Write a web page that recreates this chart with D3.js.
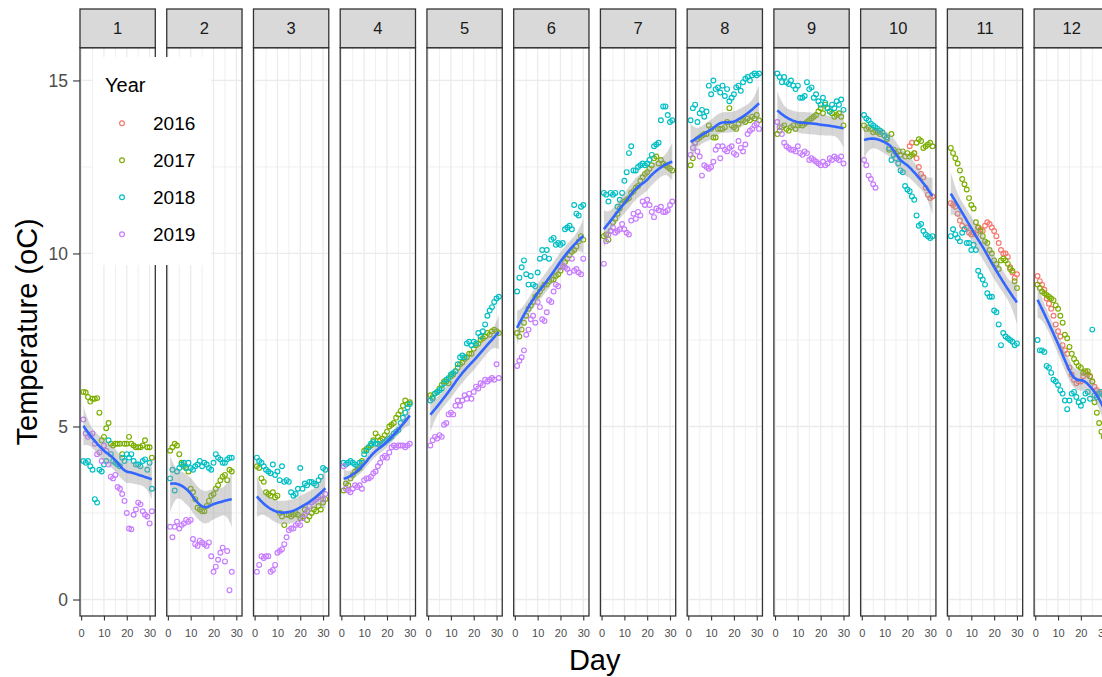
<!DOCTYPE html>
<html>
<head>
<meta charset="utf-8">
<script src="https://cdn.jsdelivr.net/npm/d3@7"></script>
<style>
  body { margin: 0; background: #fff; }
  svg { display: block; }
  text { font-family: "Liberation Sans", Arial, sans-serif; }
</style>
</head>
<body>
<svg id="chart" width="1102" height="677"></svg>
<script>
// ---- data: daily mean water temperature, one row per [month, first day, values] ----
const months = [1, 2, 3, 4, 5, 6, 7, 8, 9, 10, 11, 12];
const years = ["2016", "2017", "2018", "2019"];
const yearColors = ["#F8766D", "#7CAE00", "#00BFC4", "#C77CFF"];
const xTicks = [0, 10, 20, 30];
const yTicks = [0, 5, 10, 15];

const temps2016 = [
  [10, 21, [13.1, 13.2, 12.9, 12.75, 12.5, 12.3, 12.2, 11.9, 11.7, 11.6, 11.65]],
  [11, 1, [11.45, 11.4, 11.35, 11.15, 10.95, 10.8, 10.7, 10.75, 10.6, 10.55, 10.6, 10.55, 10.75, 10.7, 10.65, 10.8, 10.9, 10.85, 10.75, 10.65, 10.5, 10.3, 10.1, 10.0, 10.0, 9.9, 9.6, 9.45, 9.3, 9.4]],
  [12, 1, [9.35, 9.2, 9.1, 8.95, 8.7, 8.55, 8.4, 8.2, 7.95, 7.75, 7.6, 7.35, 7.2, 7.1, 6.7, 6.5, 6.35, 6.25, 6.3, 6.3, 6.45, 6.55, 6.5, 6.45, 6.3, 6.15, 6.05, 6.0, 5.95, 5.9, 5.85]]
];

const temps2017 = [
  [1, 1, [6.0, 5.98, 5.85, 5.72, 5.8, 5.8, 5.82, 5.4, 4.6, 4.7, 4.95, 5.1, 4.5, 4.45, 4.5, 4.5, 4.5, 4.2, 4.5, 4.5, 4.7, 4.5, 4.45, 4.4, 4.4, 4.4, 4.45, 4.6, 4.4, 4.4, 4.1]],
  [2, 1, [4.3, 4.4, 4.5, 4.45, 4.2, 3.95, 3.85, 3.8, 3.7, 3.2, 3.1, 2.9, 2.65, 2.6, 2.55, 2.55, 2.7, 2.85, 3.0, 3.05, 3.2, 3.3, 3.45, 3.55, 3.6, 3.45, 3.75, 3.7]],
  [3, 1, [3.85, 3.8, 3.5, 3.4, 3.1, 3.05, 3.0, 3.1, 2.95, 3.0, 2.5, 2.4, 2.15, 2.45, 2.45, 2.4, 2.45, 2.5, 2.45, 2.35, 2.4, 2.6, 2.3, 2.4, 2.5, 2.6, 2.55, 2.7, 2.6, 2.8, 2.9]],
  [4, 1, [3.15, 3.35, 3.3, 3.5, 3.6, 3.7, 3.75, 3.8, 4.0, 4.3, 4.35, 4.4, 4.45, 4.6, 4.8, 4.7, 4.6, 4.65, 4.75, 4.85, 5.0, 5.05, 5.1, 5.25, 5.35, 5.45, 5.6, 5.75, 5.65, 5.7]],
  [5, 1, [5.9, 5.85, 5.95, 6.0, 6.1, 6.2, 6.3, 6.3, 6.25, 6.45, 6.5, 6.6, 6.7, 6.8, 6.85, 6.95, 7.0, 7.1, 7.1, 7.25, 7.35, 7.4, 7.5, 7.55, 7.6, 7.7, 7.65, 7.75, 7.8, 7.75, 7.7]],
  [6, 1, [7.7, 7.6, 7.8, 8.0, 8.2, 8.4, 8.5, 8.6, 8.75, 8.8, 8.9, 9.0, 9.1, 9.1, 9.2, 9.25, 9.25, 9.35, 9.4, 9.5, 9.6, 9.75, 9.85, 9.95, 10.05, 10.1, 10.2, 10.35, 10.5, 10.4]],
  [7, 1, [10.5, 10.55, 10.4, 10.65, 10.9, 11.0, 11.15, 11.3, 11.45, 11.5, 11.55, 11.6, 11.75, 11.8, 11.9, 11.95, 12.1, 12.2, 12.3, 12.35, 12.45, 12.55, 12.75, 12.8, 12.6, 12.7, 12.6, 12.55, 12.5, 12.45, 12.4]],
  [8, 1, [12.55, 12.75, 13.2, 13.3, 13.35, 13.4, 13.45, 13.45, 13.7, 13.6, 13.35, 13.35, 13.6, 13.6, 13.6, 13.65, 13.8, 14.2, 13.7, 13.65, 13.6, 13.75, 13.85, 13.85, 13.8, 13.9, 13.85, 13.95, 13.9, 14.0, 13.85]],
  [9, 1, [13.45, 13.55, 13.65, 13.7, 13.6, 13.55, 13.65, 13.7, 13.6, 13.7, 13.75, 13.7, 13.75, 13.8, 13.85, 13.9, 13.95, 14.0, 14.1, 14.2, 14.05, 14.3, 14.2, 14.1, 14.05, 13.95, 14.0, 14.05, 13.95, 13.7]],
  [10, 1, [13.7, 13.6, 13.65, 13.6, 13.5, 13.55, 13.5, 13.45, 13.5, 13.4, 13.3, 13.0, 13.45, 13.0, 12.9, 12.95, 12.85, 12.95, 12.8, 12.9, 12.8, 12.85, 12.9, 13.2, 13.3, 13.25, 13.05, 13.1, 13.15, 13.2, 13.1]],
  [11, 1, [13.05, 12.9, 12.75, 12.6, 12.4, 12.15, 12.0, 11.85, 11.6, 11.4, 11.3, 10.9, 10.75, 10.65, 10.5, 10.35, 10.3, 10.1, 10.0, 9.8, 9.7, 9.55, 9.8, 9.85, 9.8, 9.7, 9.55, 9.5, 9.2, 9.0]],
  [12, 1, [9.1, 9.0, 8.9, 8.85, 8.8, 8.75, 8.7, 8.65, 8.5, 8.4, 8.2, 8.0, 7.65, 7.55, 7.3, 7.1, 6.95, 6.85, 6.75, 6.7, 6.55, 6.6, 6.6, 6.45, 6.3, 5.7, 5.4, 5.1, 4.85, 4.7, 4.5]]
];

const temps2018 = [
  [1, 1, [4.0, 3.95, 4.0, 3.85, 3.75, 2.9, 2.8, 3.75, 3.7, 3.9, 4.0, 4.6, 4.2, 4.0, 3.95, 3.9, 3.85, 4.1, 4.0, 4.2, 4.1, 4.2, 4.0, 3.9, 3.9, 3.85, 4.0, 4.05, 3.75, 3.95, 3.2]],
  [2, 1, [3.5, 3.75, 3.15, 3.7, 3.8, 3.9, 3.95, 3.8, 3.95, 3.8, 3.75, 3.85, 3.9, 4.0, 3.85, 3.95, 3.9, 3.8, 3.75, 3.95, 4.2, 4.1, 4.05, 3.95, 3.95, 4.05, 4.1, 4.1]],
  [3, 1, [4.1, 4.0, 3.95, 3.85, 3.75, 3.7, 3.65, 3.9, 3.6, 3.7, 3.45, 3.85, 3.4, 3.45, 3.4, 3.1, 3.0, 3.05, 3.2, 3.8, 3.2, 3.35, 3.3, 3.4, 3.4, 3.35, 3.3, 3.45, 3.55, 3.8, 3.75]],
  [4, 1, [3.95, 3.9, 3.95, 4.0, 3.95, 3.9, 3.85, 3.95, 3.95, 4.2, 4.3, 4.4, 4.5, 4.55, 4.5, 4.5, 4.45, 4.5, 4.55, 4.6, 4.65, 4.7, 4.8, 4.85, 4.9, 5.1, 5.25, 5.4, 5.55, 5.65]],
  [5, 1, [5.75, 5.8, 5.95, 6.0, 6.05, 6.1, 6.25, 6.35, 6.4, 6.5, 6.55, 6.6, 6.8, 7.0, 7.05, 7.0, 7.4, 7.45, 7.35, 7.45, 7.4, 7.7, 7.6, 7.75, 7.95, 8.2, 8.35, 8.45, 8.6, 8.7, 8.75]],
  [6, 1, [8.9, 9.3, 9.6, 9.8, 9.4, 9.1, 9.35, 9.1, 9.05, 9.45, 9.85, 10.1, 9.9, 10.1, 9.85, 10.4, 10.45, 10.25, 10.3, 10.25, 10.3, 10.7, 10.75, 10.8, 10.7, 11.4, 11.15, 11.1, 11.35, 11.4]],
  [7, 1, [11.75, 11.7, 11.5, 11.75, 11.7, 11.75, 11.35, 11.55, 11.75, 12.1, 12.35, 12.9, 13.1, 12.4, 12.4, 12.5, 12.55, 12.6, 12.55, 12.6, 12.7, 12.85, 13.1, 13.15, 13.2, 13.85, 14.25, 14.25, 14.0, 13.8, 13.85]],
  [8, 1, [13.85, 14.2, 14.3, 13.8, 14.05, 14.15, 13.95, 14.1, 14.85, 14.6, 15.0, 14.75, 14.8, 14.65, 14.85, 14.55, 14.75, 14.4, 14.5, 14.6, 14.8, 14.85, 14.7, 14.95, 15.05, 15.1, 15.0, 15.15, 15.2, 15.15, 15.2]],
  [9, 1, [15.2, 15.1, 14.95, 15.1, 14.95, 14.9, 15.0, 14.85, 14.75, 14.85, 14.5, 14.5, 14.55, 14.95, 14.75, 14.8, 14.5, 14.6, 14.4, 14.3, 14.5, 14.35, 14.2, 14.1, 14.3, 14.2, 14.4, 14.3, 14.45, 14.15]],
  [10, 1, [14.0, 13.9, 13.85, 13.75, 13.7, 13.65, 13.6, 13.55, 13.5, 13.4, 13.35, 13.05, 12.7, 12.85, 12.75, 12.6, 12.4, 12.35, 11.95, 11.85, 11.8, 11.65, 11.55, 11.1, 10.8, 10.85, 10.65, 10.55, 10.5, 10.45, 10.5]],
  [11, 1, [10.5, 10.7, 10.55, 10.45, 10.35, 10.6, 10.7, 10.3, 10.3, 10.1, 10.25, 10.1, 9.5, 9.35, 9.25, 9.1, 8.85, 8.75, 8.75, 8.35, 8.3, 7.95, 7.35, 7.7, 7.6, 7.55, 7.5, 7.45, 7.35, 7.4]],
  [12, 1, [7.5, 7.2, 7.2, 7.15, 6.75, 6.7, 6.55, 6.35, 6.3, 6.2, 6.05, 5.95, 5.75, 5.5, 5.75, 5.95, 6.0, 5.85, 5.7, 5.6, 5.75, 5.95, 6.0, 5.8, 7.8, 5.9, 5.85, 5.95, 6.0, 5.9, 5.8]]
];

const temps2019 = [
  [1, 1, [5.2, 4.8, 4.7, 4.75, 4.8, 4.5, 4.2, 4.25, 4.0, 4.45, 4.3, 3.9, 3.55, 3.5, 3.6, 3.25, 3.2, 3.05, 2.85, 2.5, 2.05, 2.03, 2.45, 2.6, 2.8, 2.75, 2.55, 2.45, 2.4, 2.2, 2.55]],
  [2, 1, [2.1, 1.8, 2.1, 2.25, 2.05, 2.15, 2.2, 2.3, 2.25, 2.3, 1.75, 1.6, 1.55, 1.7, 1.65, 1.6, 1.55, 1.65, 1.25, 0.8, 0.95, 1.15, 1.35, 1.5, 1.1, 1.4, 0.27, 0.8]],
  [3, 1, [0.8, 1.0, 1.25, 1.2, 1.25, 1.25, 0.8, 0.85, 1.0, 1.35, 1.4, 1.45, 1.6, 1.8, 2.0, 2.05, 2.05, 2.15, 2.2, 2.15, 2.35, 2.45, 2.55, 2.7, 2.8, 2.85, 2.9, 2.95, 3.0, 2.9, 3.05]],
  [4, 1, [3.85, 3.2, 3.15, 3.1, 3.2, 3.3, 3.25, 3.3, 3.2, 3.45, 3.5, 3.5, 3.55, 3.65, 3.7, 3.85, 3.95, 4.1, 4.15, 4.1, 4.25, 4.4, 4.45, 4.4, 4.45, 4.45, 4.45, 4.4, 4.45, 4.5]],
  [5, 1, [4.45, 4.6, 4.7, 4.65, 4.75, 4.7, 5.05, 5.1, 5.35, 5.4, 5.35, 5.6, 5.75, 5.6, 5.75, 5.9, 5.8, 5.95, 5.8, 6.0, 6.15, 6.1, 6.25, 6.2, 6.35, 6.3, 6.35, 6.4, 6.35, 6.8, 6.4]],
  [6, 1, [6.75, 6.9, 7.0, 7.2, 7.65, 7.8, 8.1, 8.2, 8.0, 8.6, 8.45, 8.1, 8.05, 8.3, 8.65, 8.6, 8.9, 9.1, 9.05, 9.6, 9.65, 9.6, 9.55, 9.45, 9.85, 9.5, 9.55, 9.45, 9.4, 9.85]],
  [7, 1, [9.7, 10.35, 10.55, 10.65, 10.75, 10.6, 10.65, 10.7, 10.85, 10.7, 10.6, 10.55, 10.95, 11.15, 11.0, 11.2, 11.1, 11.5, 11.4, 11.55, 11.4, 11.2, 11.05, 11.3, 11.25, 11.35, 11.2, 11.2, 11.25, 11.4, 11.5]],
  [8, 1, [12.85, 13.05, 13.2, 12.95, 12.8, 12.25, 12.55, 12.5, 12.45, 12.5, 12.65, 13.0, 13.1, 12.75, 13.1, 13.0, 12.95, 13.05, 13.1, 12.9, 12.85, 13.25, 13.05, 12.95, 13.15, 13.45, 13.55, 13.6, 13.7, 13.75, 13.6]],
  [9, 1, [13.8, 13.65, 13.45, 13.2, 13.1, 13.05, 13.0, 13.0, 12.95, 13.1, 12.9, 12.85, 12.95, 12.9, 12.7, 12.75, 12.7, 12.65, 12.6, 12.55, 12.65, 12.55, 12.6, 12.75, 12.7, 12.8, 12.75, 12.7, 12.8, 12.6]],
  [10, 1, [12.7, 12.55, 12.25, 12.15, 12.0, 11.9]]
];

const temperatureRows = [temps2016, temps2017, temps2018, temps2019];

// ---- flatten into one record per day ----
const records = [];
temperatureRows.forEach((rows, yi) => {
  rows.forEach(([month, firstDay, values]) => {
    values.forEach((v, i) => records.push({ year: years[yi], month, day: firstDay + i, temp: v }));
  });
});

// ---- local quadratic regression (loess, span 0.75) with a 95% band ----
function invert3(m) {
  const [a, b, c] = m[0], [d, e, f] = m[1], [g, h, k] = m[2];
  const A = e * k - f * h, B = -(d * k - f * g), C = d * h - e * g;
  const det = a * A + b * B + c * C;
  return [
    [A / det, -(b * k - c * h) / det, (b * f - c * e) / det],
    [B / det, (a * k - c * g) / det, -(a * f - c * d) / det],
    [C / det, -(a * h - b * g) / det, (a * e - b * d) / det]
  ];
}

function loess(xs, ys, span, nOut) {
  const n = xs.length;
  const q = Math.floor(n * span);
  function smootherRow(x0) {
    const dist = xs.map(v => Math.abs(v - x0));
    const h = Math.max(dist.slice().sort((p, r) => p - r)[q - 1], 1e-9);
    const w = dist.map(dd => { const u = dd / h; return u < 1 ? Math.pow(1 - u * u * u, 3) : 0; });
    const S = [[0, 0, 0], [0, 0, 0], [0, 0, 0]];
    for (let i = 0; i < n; i++) {
      const t = xs[i] - x0, basis = [1, t, t * t];
      for (let j = 0; j < 3; j++) for (let kk = 0; kk < 3; kk++) S[j][kk] += w[i] * basis[j] * basis[kk];
    }
    const inv = invert3(S);
    return xs.map((v, i) => { const t = v - x0; return w[i] * (inv[0][0] + inv[0][1] * t + inv[0][2] * t * t); });
  }
  // smoother matrix at the observations -> residual variance
  const L = xs.map(smootherRow);
  let rss = 0, trL = 0, frob = 0;
  for (let i = 0; i < n; i++) {
    const fit = d3.sum(L[i], (l, j) => l * ys[j]);
    rss += (ys[i] - fit) ** 2;
    trL += L[i][i];
    frob += d3.sum(L[i], l => l * l);
  }
  const delta1 = n - 2 * trL + frob;
  const sigma = Math.sqrt(rss / delta1);
  const tq = 1.98;
  const [x0, x1] = d3.extent(xs);
  return d3.range(nOut).map(i => {
    const xv = x0 + (x1 - x0) * i / (nOut - 1);
    const row = smootherRow(xv);
    const fit = d3.sum(row, (l, j) => l * ys[j]);
    const se = sigma * Math.sqrt(d3.sum(row, l => l * l));
    return { x: xv, fit, lo: fit - tq * se, hi: fit + tq * se };
  });
}

// ---- layout ----
const svg = d3.select("#chart");
const stripTop = 9, panelTop = 47.7, panelBottom = 616;

const fx = d3.scaleBand().domain(months).range([80, 1109.4]).paddingInner(0.1319);
const bw = fx.bandwidth();

const dayExt = d3.extent(records, d => d.day);
const dPad = (dayExt[1] - dayExt[0]) * 0.05;
const x = d3.scaleLinear().domain([dayExt[0] - dPad, dayExt[1] + dPad]).range([0, bw]);

const tExt = d3.extent(records, d => d.temp);
const tPad = (tExt[1] - tExt[0]) * 0.05;
const y = d3.scaleLinear().domain([tExt[0] - tPad, tExt[1] + tPad]).range([panelBottom, panelTop]);

const color = d3.scaleOrdinal().domain(years).range(yearColors);

svg.append("rect").attr("width", 1102).attr("height", 677).attr("fill", "#fff");

svg.append("defs").append("clipPath").attr("id", "panelClip")
  .append("rect").attr("x", 0).attr("y", panelTop).attr("width", bw).attr("height", panelBottom - panelTop);

const xMinor = [5, 15, 25];
const yMinor = [2.5, 7.5, 12.5];

months.forEach(m => {
  const g = svg.append("g").attr("transform", `translate(${fx(m)},0)`);
  const data = records.filter(d => d.month === m);

  // grid
  const grid = g.append("g").attr("clip-path", "url(#panelClip)");
  grid.selectAll(".ymin").data(yMinor).join("line")
    .attr("x1", 0).attr("x2", bw).attr("y1", d => y(d)).attr("y2", d => y(d))
    .attr("stroke", "#EBEBEB").attr("stroke-width", 0.8);
  grid.selectAll(".xmin").data(xMinor).join("line")
    .attr("y1", panelTop).attr("y2", panelBottom).attr("x1", d => x(d)).attr("x2", d => x(d))
    .attr("stroke", "#EBEBEB").attr("stroke-width", 0.8);
  grid.selectAll(".ymaj").data(yTicks).join("line")
    .attr("x1", 0).attr("x2", bw).attr("y1", d => y(d)).attr("y2", d => y(d))
    .attr("stroke", "#EBEBEB").attr("stroke-width", 1.3);
  grid.selectAll(".xmaj").data(xTicks).join("line")
    .attr("y1", panelTop).attr("y2", panelBottom).attr("x1", d => x(d)).attr("x2", d => x(d))
    .attr("stroke", "#EBEBEB").attr("stroke-width", 1.3);

  // points
  const pts = g.append("g").attr("clip-path", "url(#panelClip)");
  pts.selectAll("circle").data(data).join("circle")
    .attr("cx", d => x(d.day)).attr("cy", d => y(d.temp)).attr("r", 2.4)
    .attr("fill", "none").attr("stroke", d => color(d.year)).attr("stroke-width", 1.15);

  // smooth
  const sm = loess(data.map(d => d.day), data.map(d => d.temp), 0.75, 80);
  const smooth = g.append("g").attr("clip-path", "url(#panelClip)");
  smooth.append("path").datum(sm)
    .attr("d", d3.area().x(d => x(d.x)).y0(d => y(d.lo)).y1(d => y(d.hi)))
    .attr("fill", "#999999").attr("fill-opacity", 0.4);
  smooth.append("path").datum(sm)
    .attr("d", d3.line().x(d => x(d.x)).y(d => y(d.fit)))
    .attr("fill", "none").attr("stroke", "#3366FF").attr("stroke-width", 2.6);

  // border + strip
  g.append("rect").attr("x", 0).attr("y", panelTop).attr("width", bw).attr("height", panelBottom - panelTop)
    .attr("fill", "none").attr("stroke", "#333333").attr("stroke-width", 1.3);
  g.append("rect").attr("x", 0).attr("y", stripTop).attr("width", bw).attr("height", panelTop - stripTop)
    .attr("fill", "#D9D9D9").attr("stroke", "#333333").attr("stroke-width", 1.3);
  g.append("text").attr("x", bw / 2).attr("y", (stripTop + panelTop) / 2).attr("dy", "0.36em")
    .attr("text-anchor", "middle").attr("font-size", 16.5).attr("fill", "#1A1A1A").text(m);

  // x axis
  const ax = g.append("g").attr("transform", `translate(0,${panelBottom})`)
    .call(d3.axisBottom(x).tickValues(xTicks).tickSize(4.5).tickPadding(9).tickSizeOuter(0));
  ax.select(".domain").remove();
  ax.selectAll(".tick line").attr("stroke", "#333333").attr("stroke-width", 1.1);
  ax.selectAll(".tick text").attr("font-size", 11).attr("fill", "#4D4D4D")
    .attr("font-family", "'Liberation Sans', Arial, sans-serif");
});

// y axis
const ay = svg.append("g").attr("transform", `translate(${fx(1)},0)`)
  .call(d3.axisLeft(y).tickValues(yTicks).tickSize(7).tickPadding(5).tickSizeOuter(0));
ay.select(".domain").remove();
ay.selectAll(".tick line").attr("stroke", "#333333").attr("stroke-width", 1.1);
ay.selectAll(".tick text").attr("font-size", 17.5).attr("fill", "#4D4D4D")
  .attr("font-family", "'Liberation Sans', Arial, sans-serif");

// legend
const lg = svg.append("g");
lg.append("rect").attr("x", 93).attr("y", 57).attr("width", 118).attr("height", 208).attr("fill", "#fff");
lg.append("text").attr("x", 105).attr("y", 92).attr("font-size", 20).attr("fill", "#000").text("Year");
years.forEach((yr, i) => {
  const cy = 123.3 + i * 37;
  lg.append("circle").attr("cx", 122).attr("cy", cy).attr("r", 2.4)
    .attr("fill", "none").attr("stroke", color(yr)).attr("stroke-width", 1.15);
  lg.append("text").attr("x", 153).attr("y", cy).attr("dy", "0.36em")
    .attr("font-size", 19).attr("fill", "#000").text(yr);
});

// axis titles
svg.append("text").attr("x", (80 + 1109.4) / 2).attr("y", 670).attr("text-anchor", "middle")
  .attr("font-size", 29).attr("fill", "#000").text("Day");
svg.append("text").attr("transform", `translate(37,${(panelTop + panelBottom) / 2}) rotate(-90)`)
  .attr("text-anchor", "middle").attr("font-size", 29).attr("fill", "#000").text("Temperature (oC)");
</script>
</body>
</html>
